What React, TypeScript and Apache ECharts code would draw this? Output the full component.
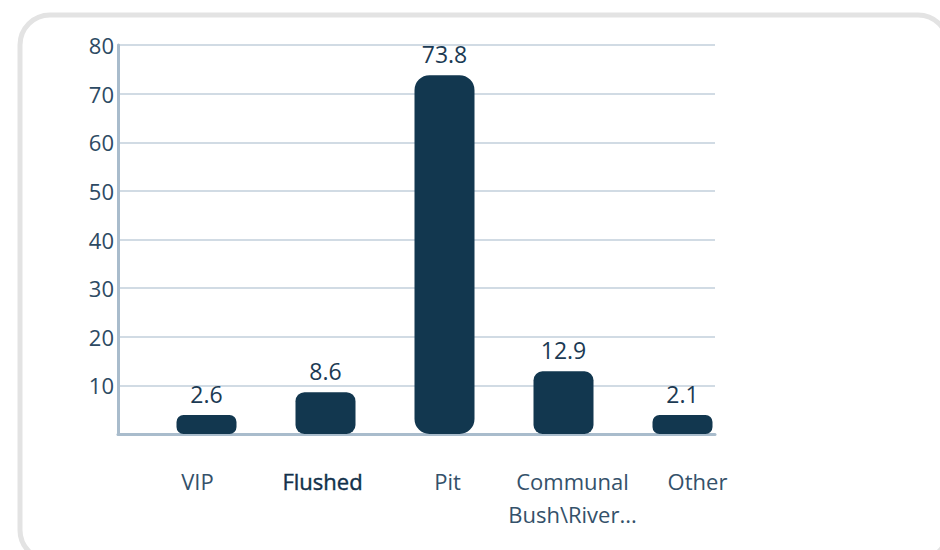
import React, { useEffect, useRef } from "react";
import * as echarts from "echarts";

const categories = ["VIP", "Flushed", "Pit", "Communal\nBush\\River...", "Other"];
const values = [2.6, 8.6, 73.8, 12.9, 2.1];
const yTicks = { min: 0, max: 80, interval: 10 };

const barRadii = [7, 9, 15, 9, 7];

export default function App() {
  const ref = useRef<HTMLDivElement>(null);
  useEffect(() => {
    if (!ref.current) return;
    const chart = echarts.init(ref.current, null, { renderer: "svg" });
    const axisColor = "#a9bccc";
    const textColor = "#2d4a63";
    const hiddenY = {
      type: "value",
      min: yTicks.min,
      max: yTicks.max,
      interval: yTicks.interval,
      show: false,
    };
    chart.setOption({
      animation: false,
      backgroundColor: "#ffffff",
      graphic: [
        {
          type: "rect",
          z: -10,
          shape: { x: 20, y: 15, width: 928, height: 545, r: 30 },
          style: { fill: "#ffffff", stroke: "#e3e3e3", lineWidth: 5 },
        },
      ],
      grid: [
        { left: 118, right: 225, top: 45, bottom: 116 },
        { left: 147, right: 198, top: 45, bottom: 116 },
        { left: 135, right: 180, top: 45, bottom: 116 },
      ],
      xAxis: [
        {
          type: "category",
          gridIndex: 0,
          data: categories,
          axisLine: { show: true, lineStyle: { color: axisColor, width: 3 } },
          axisTick: { show: false },
          axisLabel: { show: false },
        },
        {
          type: "category",
          gridIndex: 1,
          data: categories,
          show: false,
        },
        {
          type: "category",
          gridIndex: 2,
          data: categories,
          axisLine: { show: false },
          axisTick: { show: false },
          axisLabel: {
            interval: 0,
            hideOverlap: false,
            margin: 30,
            fontFamily: "Open Sans",
            fontSize: 22,
            lineHeight: 33,
            color: "#34516a",
            formatter: (v: string, i: number) => (i === 1 ? "{b|" + v + "}" : v),
            rich: {
              b: {
                fontFamily: "Open Sans",
                fontSize: 22,
                lineHeight: 33,
                fontWeight: 500,
                color: "#12304a",
                textBorderColor: "#12304a",
                textBorderWidth: 0.4,
              },
            },
          },
        },
      ],
      yAxis: [
        {
          type: "value",
          gridIndex: 0,
          min: yTicks.min,
          max: yTicks.max,
          interval: yTicks.interval,
          axisLine: { show: true, lineStyle: { color: axisColor, width: 3 } },
          axisTick: { show: false },
          axisLabel: {
            margin: 4,
            fontFamily: "Open Sans",
            fontSize: 22,
            color: textColor,
            formatter: (v: number) => (v === 0 ? "" : String(v)),
          },
          splitLine: { show: true, lineStyle: { color: "#c2cfdb", width: 1.5 } },
        },
        { ...hiddenY, gridIndex: 1 },
        { ...hiddenY, gridIndex: 2 },
      ],
      series: [
        {
          type: "bar",
          xAxisIndex: 1,
          yAxisIndex: 1,
          barWidth: 60,
          barMinHeight: 19,
          data: values.map((v, i) => ({
            value: v,
            itemStyle: { borderRadius: barRadii[i] },
          })),
          itemStyle: { color: "#12374f" },
          label: {
            show: true,
            position: "top",
            distance: 10,
            fontFamily: "Open Sans",
            fontSize: 23,
            color: "#1b3a53",
          },
        },
      ],
    });
    return () => chart.dispose();
  }, []);
  return (
    <div
      ref={ref}
      style={{ position: "fixed", left: 0, top: 0, width: 940, height: 550 }}
    />
  );
}
